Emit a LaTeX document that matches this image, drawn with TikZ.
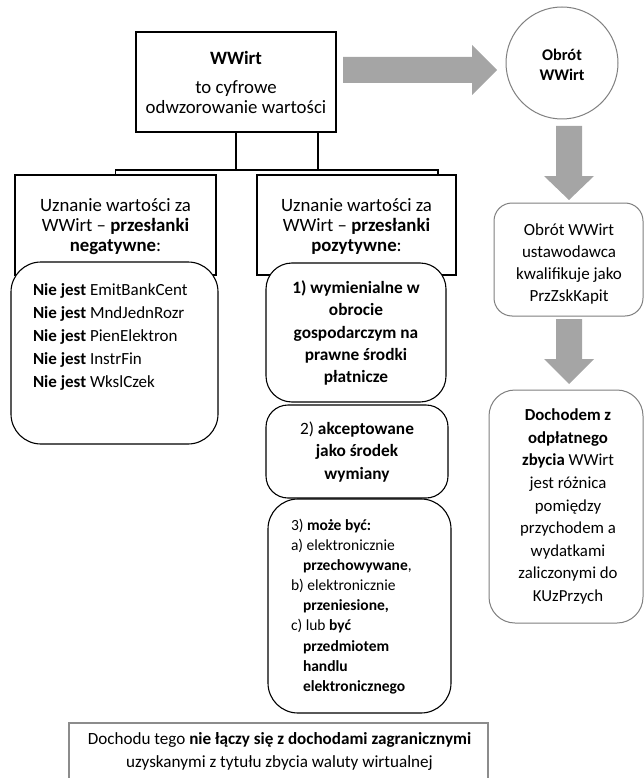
\documentclass[tikz,border=0pt]{standalone}
\usepackage{fontspec}
\setmainfont{Carlito}
\usetikzlibrary{calc}
\definecolor{arrowgray}{HTML}{A5A5A5}
\definecolor{linegray}{HTML}{7F7F7F}
\definecolor{boxgray}{HTML}{8C8C8C}
\newcommand{\fsHead}{\fontsize{18.8}{20.3}\selectfont}
\newcommand{\fsNeg}{\fontsize{17}{23}\selectfont}
\newcommand{\fsPos}{\fontsize{17.3}{22.4}\selectfont}
\newcommand{\fsSmall}{\fontsize{15.5}{20.1}\selectfont}
\newcommand{\fsRight}{\fontsize{17}{21.7}\selectfont}
\newcommand{\fsDoch}{\fontsize{16.8}{22.6}\selectfont}
\newcommand{\fsCirc}{\fontsize{16.3}{20}\selectfont}
\newcommand{\fsBot}{\fontsize{17.1}{23}\selectfont}
\tikzset{
  blkbox/.style={draw=black, line width=1.1pt, fill=white, inner sep=0pt, outer sep=0pt},
  grybox/.style={draw=linegray, line width=1pt, fill=white, inner sep=0pt, outer sep=0pt},
  garrow/.style={fill=arrowgray, draw=none},
  conn/.style={draw=black, line width=1.1pt},
  txt/.style={inner sep=0pt, outer sep=0pt, align=center},
}
\begin{document}
\begin{tikzpicture}[x=1pt,y=-1pt]
\useasboundingbox (0,0) rectangle (644,778);
\clip (0,0) rectangle (644,778);

% top box
\node[blkbox, minimum width=200pt, minimum height=100pt] (top) at (236,82) {};
\node[txt, font=\fsHead] (topT) at (236,82.5) {\textbf{WWirt}\\[8.5pt] to cyfrowe\\ odwzorowanie wartości};

% header boxes
\node[blkbox, minimum width=201pt, minimum height=100pt] (negH) at (115.5,225) {};
\node[blkbox, minimum width=199pt, minimum height=100pt] (posH) at (356.5,225) {};
\node[txt, font=\fsHead] (negHT) at (115.5,226.5) {Uznanie wartości za\\ WWirt -- \textbf{przesłanki}\\ \textbf{negatywne}:};
\node[txt, font=\fsHead] (posHT) at (356.5,226.5) {Uznanie wartości za\\ WWirt -- \textbf{przesłanki}\\ \textbf{pozytywne}:};

% connectors
\coordinate (bar) at (0,170);
\coordinate (topR) at ($(top.south)+(82,0)$);
\coordinate (posIn) at ($(posH.north east)+(-18,0)$);
\draw[conn] (top.south) -- (top.south |- bar) -| (posIn);
\draw[conn] (topR) -- (topR |- bar) -| (negH.north);

% negative premises
\node[blkbox, rounded corners=30pt, minimum width=207pt, minimum height=182pt] (negR) at (114.5,353) {};
\node[txt, align=left, anchor=west, font=\fsNeg] (negT) at (33,337) {%
\textbf{Nie jest} EmitBankCent\\
\textbf{Nie jest} MndJednRozr\\
\textbf{Nie jest} PienElektron\\
\textbf{Nie jest} InstrFin\\
\textbf{Nie jest} WkslCzek};

% positive premises
\node[blkbox, rounded corners=26pt, minimum width=180pt, minimum height=139pt] (p1) at (356,332.5) {};
\node[txt, font=\fsPos\bfseries] (p1T) at (356,333) {1) wymienialne w\\ obrocie\\ gospodarczym na\\ prawne środki\\ płatnicze};
\node[blkbox, rounded corners=22pt, minimum width=182pt, minimum height=93pt] (p2) at (357,451.5) {};
\node[txt, font=\fsPos] (p2T) at (357,452) {2) \textbf{akceptowane}\\ \textbf{jako środek}\\ \textbf{wymiany}};
\node[blkbox, rounded corners=30pt, minimum width=183pt, minimum height=214pt] (p3) at (359.5,606) {};
\node[txt, align=left, anchor=west, font=\fsSmall] (p3T) at (291,606.5) {%
3) \textbf{może być:}\\
a) elektronicznie\\
\hspace*{12pt}\textbf{przechowywane},\\
b) elektronicznie\\
\hspace*{12pt}\textbf{przeniesione,}\\
c) lub \textbf{być}\\
\hspace*{12pt}\textbf{przedmiotem}\\
\hspace*{12pt}\textbf{handlu}\\
\hspace*{12pt}\textbf{elektronicznego}};

% right column
\node[grybox, circle, minimum size=112pt] (circ) at (562,63) {};
\node[txt, font=\fsCirc\bfseries] (circT) at (562,65) {Obrót\\ WWirt};
\node[grybox, rounded corners=18pt, minimum width=149pt, minimum height=113pt] (obr) at (568.5,259.5) {};
\node[txt, font=\fsRight] (obrT) at (569,264) {Obrót WWirt\\ ustawodawca\\ kwalifikuje jako\\ PrzZskKapit};
\node[grybox, rounded corners=26pt, minimum width=154pt, minimum height=233pt] (doch) at (566,506.5) {};
\node[txt, font=\fsDoch] (dochT) at (568,506.5) {\textbf{Dochodem z}\\ \textbf{odpłatnego}\\ \textbf{zbycia} WWirt\\ jest różnica\\ pomiędzy\\ przychodem a\\ wydatkami\\ zaliczonymi do\\ KUzPrzych};

% block arrows
\fill[garrow] (343,57) -- (472,57) -- (472,45) -- (497,70) -- (472,95) -- (472,83) -- (343,83) -- cycle;
\fill[garrow] (556,126) -- (582,126) -- (582,176) -- (594,176) -- (569,200) -- (544,176) -- (556,176) -- cycle;
\fill[garrow] (556,319) -- (582,319) -- (582,359) -- (594,359) -- (569,384) -- (544,359) -- (556,359) -- cycle;

% bottom box
\node[draw=boxgray, line width=1.2pt, fill=white, inner sep=0pt, minimum width=419pt, minimum height=80pt] (bot) at (278.5,763) {};
\node[txt, font=\fsBot] (botT) at (279.5,751.5) {Dochodu tego \textbf{nie łączy się z dochodami zagranicznymi}\\ uzyskanymi z tytułu zbycia waluty wirtualnej};
\end{tikzpicture}
\end{document}
